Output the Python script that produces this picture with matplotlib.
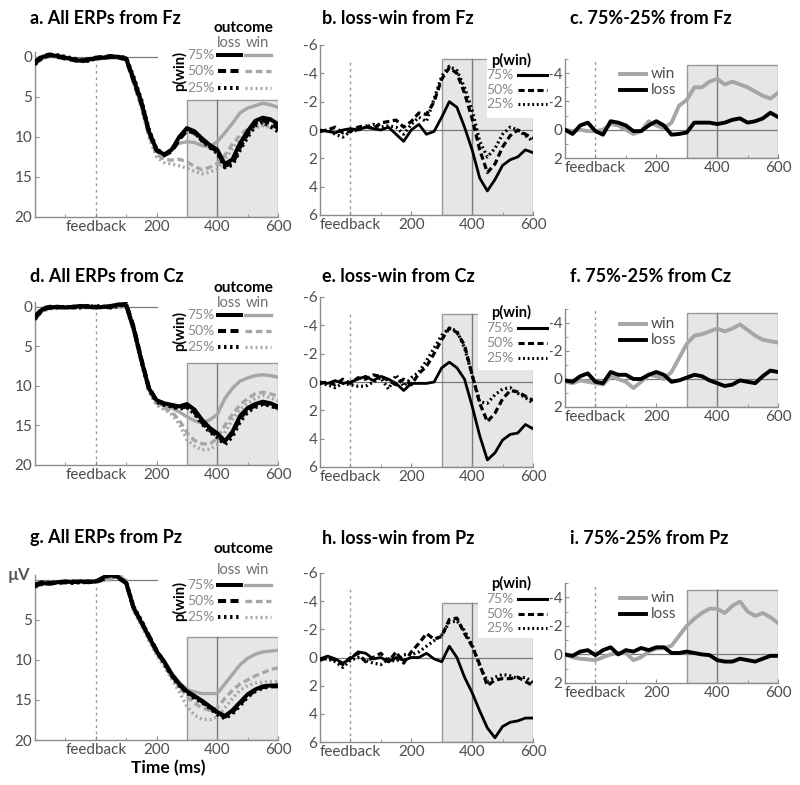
import numpy as np
import matplotlib
matplotlib.use('Agg')
import matplotlib.pyplot as plt
from matplotlib.lines import Line2D
from matplotlib.patches import Rectangle

plt.rcParams['font.family'] = ['Lato', 'DejaVu Sans']

W, H = 800, 785

# time bases (ms)
t_all = np.arange(-200, 601, 25)
t_diff = np.arange(-100, 601, 25)

# ---- all ERPs (uV), panels a / d / g ----
fz_loss75 = [0.8, 0.0, -0.2, -0.1, 0.1, 0.3, 0.5, 0.3, 0.2, 0.1, 0.0, 0.0, 0.2, 2.8, 5.6, 9.3,
             11.6, 12.2, 11.6, 10.0, 8.9, 9.3, 10.2, 11.0, 11.6, 13.4, 12.8, 10.8, 9.3, 8.0, 7.6, 7.8, 8.4]
fz_loss50 = [0.6, -0.1, -0.3, 0.0, 0.2, 0.4, 0.6, 0.4, 0.1, 0.0, -0.1, 0.1, 0.3, 3.0, 5.8, 9.4,
             11.7, 12.3, 11.8, 10.3, 9.2, 9.5, 10.4, 11.2, 11.8, 13.6, 13.3, 11.3, 9.6, 8.3, 7.9, 8.3, 8.9]
fz_loss25 = [0.9, 0.1, -0.2, -0.2, 0.0, 0.2, 0.4, 0.5, 0.2, 0.1, 0.0, 0.0, 0.1, 2.6, 5.4, 9.1,
             11.5, 12.2, 11.7, 10.1, 9.0, 9.4, 10.5, 11.3, 12.0, 13.8, 13.5, 11.6, 10.0, 8.6, 8.1, 8.7, 9.3]
fz_win75 = [0.7, 0.1, -0.1, 0.0, 0.2, 0.3, 0.4, 0.4, 0.3, 0.2, 0.1, 0.1, 0.3, 3.2, 6.0, 9.6,
            11.8, 12.2, 11.5, 10.8, 10.6, 10.7, 11.1, 11.2, 10.6, 9.5, 8.3, 7.0, 6.4, 6.1, 5.8, 6.0, 6.3]
fz_win50 = [0.8, 0.0, -0.2, 0.1, 0.3, 0.2, 0.5, 0.3, 0.2, 0.2, 0.2, 0.1, 0.4, 3.3, 6.2, 9.8,
            12.2, 12.8, 12.9, 12.8, 13.1, 13.7, 14.1, 13.8, 13.3, 12.3, 10.9, 9.8, 9.0, 8.7, 8.5, 8.6, 8.7]
fz_win25 = [1.0, 0.2, 0.0, 0.0, 0.2, 0.4, 0.6, 0.5, 0.3, 0.2, 0.1, 0.2, 0.4, 3.4, 6.4, 10.0,
            12.5, 13.2, 13.4, 13.6, 13.9, 14.3, 14.6, 14.4, 14.0, 12.8, 11.5, 10.4, 9.4, 8.9, 8.6, 8.8, 9.1]

cz_loss75 = [1.4, 0.3, 0.1, 0.0, 0.1, 0.0, -0.1, 0.0, 0.1, 0.0, -0.1, -0.3, -0.2, 2.8, 6.7, 10.3,
             11.8, 12.2, 12.4, 12.6, 12.3, 13.0, 14.3, 15.3, 16.0, 17.0, 15.8, 13.8, 12.8, 12.3, 12.0, 12.2, 12.6]
cz_loss50 = [1.2, 0.2, 0.0, 0.1, 0.0, 0.1, 0.0, -0.1, 0.0, 0.1, 0.0, -0.2, -0.4, 2.6, 6.6, 10.2,
             11.9, 12.3, 12.5, 12.8, 12.6, 13.3, 14.6, 15.6, 16.3, 17.1, 16.0, 14.1, 13.0, 12.5, 12.2, 12.4, 12.8]
cz_loss25 = [1.5, 0.4, 0.1, 0.0, 0.1, 0.0, 0.1, 0.0, -0.1, 0.0, 0.1, -0.1, -0.3, 2.7, 6.8, 10.4,
             12.0, 12.4, 12.6, 12.9, 12.7, 13.5, 14.8, 15.8, 16.5, 17.4, 16.4, 14.5, 13.3, 12.7, 12.3, 12.5, 12.9]
cz_win75 = [1.3, 0.3, 0.2, 0.1, 0.0, 0.1, 0.0, 0.1, 0.1, 0.0, 0.1, 0.0, -0.1, 3.0, 6.9, 10.5,
            12.0, 12.5, 12.8, 13.3, 13.9, 14.4, 14.7, 14.3, 13.6, 11.6, 10.3, 9.4, 9.0, 8.7, 8.6, 8.7, 8.9]
cz_win50 = [1.6, 0.4, 0.2, 0.1, 0.1, 0.0, 0.1, 0.1, 0.0, 0.1, 0.0, 0.0, 0.0, 3.1, 7.0, 10.6,
            12.2, 12.8, 13.3, 14.3, 15.9, 16.9, 17.3, 17.4, 16.6, 15.0, 13.6, 12.4, 11.6, 11.0, 10.8, 11.0, 11.3]
cz_win25 = [1.7, 0.5, 0.3, 0.2, 0.1, 0.1, 0.0, 0.1, 0.1, 0.0, 0.1, 0.1, 0.1, 3.2, 7.1, 10.8,
            12.4, 13.0, 13.6, 14.8, 16.8, 17.6, 18.1, 18.0, 17.5, 15.9, 14.2, 13.0, 12.2, 11.6, 11.2, 11.5, 11.9]

pz_loss75 = [0.7, 0.4, 0.5, 0.3, 0.2, 0.3, 0.2, 0.3, 0.2, -0.3, -0.8, -0.3, 0.4, 3.5, 5.3, 7.1,
             8.9, 10.2, 11.8, 13.0, 13.9, 14.5, 15.1, 15.8, 16.5, 17.0, 16.3, 15.3, 14.3, 13.7, 13.3, 13.2, 13.2]
pz_loss50 = [0.6, 0.3, 0.4, 0.4, 0.3, 0.2, 0.3, 0.2, 0.3, -0.1, -0.6, -0.2, 0.4, 3.6, 5.2, 7.0,
             8.8, 10.3, 11.9, 13.1, 14.0, 14.6, 15.2, 15.9, 16.6, 17.1, 16.5, 15.5, 14.5, 13.8, 13.4, 13.3, 13.3]
pz_loss25 = [0.8, 0.5, 0.4, 0.3, 0.3, 0.4, 0.3, 0.3, 0.2, -0.2, -0.7, -0.3, 0.3, 3.4, 5.1, 7.0,
             8.9, 10.4, 12.0, 13.2, 14.1, 14.8, 15.3, 16.0, 16.8, 17.3, 16.7, 15.7, 14.6, 13.9, 13.5, 13.3, 13.2]
pz_win75 = [0.9, 0.5, 0.4, 0.3, 0.2, 0.2, 0.1, 0.2, 0.1, 0.0, -0.2, -0.5, 0.2, 3.7, 5.4, 7.2,
            9.0, 10.1, 11.6, 12.8, 13.7, 14.0, 14.2, 14.2, 14.2, 13.0, 11.8, 10.6, 9.8, 9.3, 9.0, 8.9, 8.8]
pz_win50 = [0.8, 0.4, 0.3, 0.3, 0.2, 0.2, 0.2, 0.1, 0.2, 0.1, -0.1, -0.6, 0.1, 3.8, 5.5, 7.4,
            9.2, 10.5, 12.0, 13.4, 14.6, 15.4, 16.0, 16.3, 16.0, 14.8, 13.8, 13.0, 12.5, 12.0, 11.6, 11.2, 11.0]
pz_win25 = [1.0, 0.5, 0.4, 0.3, 0.2, 0.3, 0.2, 0.2, 0.1, 0.1, 0.0, -0.7, 0.1, 3.9, 5.7, 7.6,
            9.4, 10.8, 12.4, 14.0, 15.8, 16.9, 17.4, 17.5, 17.1, 16.0, 14.8, 13.8, 13.2, 12.9, 12.8, 12.7, 12.7]

# ---- loss-win differences (uV), panels b / e / h ----
fz_lw75 = [0.0, 0.1, 0.2, 0.0, -0.1, 0.0, -0.2, -0.1, 0.0, -0.2, 0.3, 0.8, 0.0, -0.4, 0.3, 0.1,
           -0.9, -2.0, -1.6, -0.2, 1.4, 3.4, 4.3, 3.5, 2.5, 2.1, 1.9, 1.4, 1.6]
fz_lw50 = [0.1, 0.0, -0.2, 0.2, 0.1, -0.2, -0.3, -0.1, -0.5, -0.6, -0.7, -0.2, -0.6, -1.2, -1.1, -2.0,
           -3.6, -4.4, -4.0, -2.6, -0.8, 1.4, 3.0, 2.4, 1.2, 0.4, 0.0, 0.3, 0.6]
fz_lw25 = [0.1, 0.0, 0.3, 0.5, 0.1, 0.0, -0.2, -0.4, -0.2, -0.3, -0.2, 0.3, -0.4, -0.9, -0.6, -2.2,
           -3.8, -4.5, -4.2, -3.0, -1.4, 0.8, 1.9, 1.3, 0.3, -0.2, 0.0, 0.4, 0.8]

cz_lw75 = [0.0, 0.1, -0.1, 0.1, 0.0, -0.2, -0.4, -0.1, -0.4, -0.2, 0.1, 0.6, 0.1, 0.1, 0.1, 0.0,
           -1.0, -1.4, -1.0, -0.2, 1.7, 3.8, 5.5, 5.0, 4.1, 3.7, 3.6, 3.0, 3.3]
cz_lw50 = [0.1, 0.0, 0.2, -0.2, 0.1, -0.3, -0.2, -0.5, -0.4, -0.1, 0.2, -0.2, 0.2, -0.6, -1.1, -2.0,
           -3.0, -3.8, -3.5, -2.6, -0.5, 1.5, 2.8, 2.2, 1.2, 0.6, 0.7, 1.0, 1.3]
cz_lw25 = [0.1, 0.2, 0.4, 0.1, 0.2, 0.3, 0.3, 0.0, -0.3, 0.5, -0.5, 0.3, -0.3, -0.7, -1.5, -2.4,
           -3.3, -3.8, -3.6, -2.4, -0.5, 1.4, 1.5, 0.9, 0.5, 0.4, 0.8, 1.1, 1.5]

pz_lw75 = [0.1, -0.1, 0.1, 0.4, 0.1, -0.4, -0.3, 0.1, 0.0, 0.3, 0.0, 0.2, 0.0, 0.0, -0.3, 0.1,
           0.3, -0.8, 0.0, 1.4, 2.5, 3.8, 5.0, 5.7, 4.9, 4.6, 4.5, 4.3, 4.3]
pz_lw50 = [0.2, 0.0, 0.2, 0.5, 0.0, -0.3, 0.3, 0.0, -0.3, 0.3, -0.4, 0.4, -0.4, -1.0, -1.7, -1.3,
           -1.5, -2.7, -2.8, -1.7, -0.8, 0.5, 2.0, 1.6, 1.5, 1.5, 1.4, 1.7, 2.0]
pz_lw25 = [0.1, 0.1, 0.3, 0.7, 0.2, 0.0, 0.2, 0.4, 0.5, 0.1, 0.3, -0.2, -0.2, -0.4, -0.8, -1.2,
           -1.6, -2.5, -2.6, -1.9, -0.9, 0.6, 1.7, 1.4, 1.2, 1.3, 1.5, 1.4, 1.8]

# ---- 75%-25% differences (uV), panels c / f / i ----
fz_dwin = [0.0, 0.1, 0.0, 0.1, 0.1, 0.0, -0.4, -0.3, 0.0, 0.3, 0.1, -0.6, -0.3, -0.1, -0.5, -1.7,
           -2.1, -3.0, -3.0, -3.4, -3.6, -3.2, -3.4, -3.2, -3.0, -2.7, -2.4, -2.2, -2.6]
fz_dloss = [0.0, 0.3, -0.3, -0.5, 0.1, 0.35, -0.6, -0.5, -0.3, 0.1, 0.1, -0.3, -0.6, -0.3, 0.35, 0.3,
            0.2, -0.5, -0.5, -0.5, -0.4, -0.5, -0.7, -0.8, -0.5, -0.6, -0.8, -1.2, -0.9]
cz_dwin = [0.2, 0.3, 0.1, 0.2, 0.3, 0.4, -0.2, 0.0, 0.2, 0.65, 0.2, -0.3, -0.2, 0.0, -0.5, -1.5,
           -2.5, -3.1, -3.2, -3.4, -3.6, -3.4, -3.6, -3.9, -3.5, -3.1, -2.8, -2.7, -2.6]
cz_dloss = [0.1, 0.2, -0.2, -0.4, 0.2, 0.3, -0.5, -0.3, -0.3, 0.0, 0.0, -0.3, -0.5, -0.3, 0.2, 0.1,
            -0.1, -0.3, -0.2, 0.1, 0.3, 0.5, 0.4, 0.1, 0.2, 0.3, -0.2, -0.6, -0.5]
pz_dwin = [0.0, 0.2, 0.3, 0.35, 0.4, 0.2, 0.0, -0.1, -0.1, 0.4, 0.2, -0.2, -0.4, -0.45, -0.6, -1.3,
           -2.0, -2.5, -2.9, -3.2, -3.2, -2.9, -3.4, -3.7, -3.0, -2.7, -2.9, -2.6, -2.2]
pz_dloss = [0.0, 0.1, -0.2, -0.3, 0.05, -0.3, -0.5, 0.0, -0.3, -0.2, -0.45, -0.3, -0.5, -0.5, -0.1, -0.1,
            -0.2, -0.1, 0.0, 0.05, 0.4, 0.5, 0.5, 0.3, 0.4, 0.5, 0.3, 0.1, 0.1]

prob_labels = ['75%', '50%', '25%']
titles = ['a. All ERPs from Fz', 'b. loss-win from Fz', 'c. 75%-25% from Fz',
          'd. All ERPs from Cz', 'e. loss-win from Cz', 'f. 75%-25% from Cz',
          'g. All ERPs from Pz', 'h. loss-win from Pz', 'i. 75%-25% from Pz']

GRAY = '#a6a6a6'
SPINE = '#8c8c8c'
TICKC = '#4d4d4d'
SHADE = '#e6e6e6'
styles = ['-', (0, (2.0, 1.1)), (0, (0.6, 0.9))]

fig = plt.figure(figsize=(W / 100, H / 100), dpi=100)


def fx(x):
    return x / W


def fy(y):
    return 1 - y / H


def add_axes(l, r, t, b):
    return fig.add_axes([fx(l), fy(b), (r - l) / W, (b - t) / H])


def seg(x0, x1, y, **kw):
    fig.add_artist(Line2D([fx(x0), fx(x1)], [fy(y), fy(y)], transform=fig.transFigure, **kw))


def txt(x, y, s, **kw):
    fig.text(fx(x), fy(y), s, va='center', **kw)


def style(ax, xlim, ylim, yticks, ylabels):
    ax.set_xlim(*xlim)
    ax.set_ylim(*ylim)
    for s in ['top', 'right']:
        ax.spines[s].set_visible(False)
    for s in ['left', 'bottom']:
        ax.spines[s].set_color(SPINE)
        ax.spines[s].set_linewidth(1.0)
    ax.set_xticks([0, 200, 400, 600])
    ax.set_xticklabels(['feedback', '200', '400', '600'])
    ax.set_xticks(np.arange(-100, 601, 100), minor=True)
    ax.set_yticks(yticks)
    ax.set_yticklabels(ylabels)
    ax.tick_params(which='both', direction='in', color=SPINE, labelcolor=TICKC,
                   labelsize=11, pad=2)
    ax.tick_params(which='major', length=3)
    ax.tick_params(which='minor', length=2)


# ---------- column 1: all ERPs ----------
erp_sets = [
    (fz_loss75, fz_loss50, fz_loss25, fz_win75, fz_win50, fz_win25),
    (cz_loss75, cz_loss50, cz_loss25, cz_win75, cz_win50, cz_win25),
    (pz_loss75, pz_loss50, pz_loss25, pz_win75, pz_win50, pz_win25),
]
erp_box = [(52, 217), (302, 465), (575, 740)]
erp_shade_top = [5.4, 7.1, 7.2]
erp_leg = [(28, 43, [55, 71, 88]), (288, 303, [315, 331, 347]), (549, 570, [585, 601, 617])]
erp_ylabels = [['0', '5', '10', '15', '20'], ['0', '5', '10', '15', '20'],
               ['', '5', '10', '15', '20']]

for k, series in enumerate(erp_sets):
    top, bot = erp_box[k]
    ax = add_axes(35, 278, top, bot)
    style(ax, (-200, 600), (20, -0.6), [0, 5, 10, 15, 20], erp_ylabels[k])
    st = erp_shade_top[k]
    ax.add_patch(Rectangle((300, st), 300, 20 - st, facecolor=SHADE, edgecolor='#9a9a9a',
                           lw=1, zorder=0))
    ax.plot([400, 400], [st, 20], color='#7a7a7a', lw=1, zorder=1)
    ax.plot([-200, 200], [0, 0], color='#7a7a7a', lw=0.9, zorder=1)
    ax.plot([0, 0], [20, 0.5], color='#9a9a9a', lw=1, ls=(0, (2, 2.5)), zorder=1)
    for j in range(3):
        ax.plot(t_all, series[3 + j], color=GRAY, lw=2.4, ls=styles[j], zorder=2)
    for j in range(3):
        ax.plot(t_all, series[j], color='black', lw=2.9, ls=styles[j], zorder=3)

    oy, lwy, rows = erp_leg[k]
    txt(243, oy, 'outcome', ha='center', fontsize=11, fontweight='bold', color='black')
    txt(229, lwy, 'loss', ha='center', fontsize=10.5, color='#707070')
    txt(257, lwy, 'win', ha='center', fontsize=10.5, color='#707070')
    fig.text(fx(180), fy(rows[1]), 'p(win)', rotation=90, ha='center', va='center',
             fontsize=10.5, fontweight='bold', color='black')
    for j in range(3):
        txt(201, rows[j], prob_labels[j], ha='center', fontsize=10, color='#8a8a8a')
        seg(218, 241, rows[j], color='black', lw=2.9, ls=styles[j])
        seg(245, 271, rows[j], color=GRAY, lw=2.4, ls=styles[j])

# ---------- column 2: loss-win ----------
lw_sets = [(fz_lw75, fz_lw50, fz_lw25), (cz_lw75, cz_lw50, cz_lw25), (pz_lw75, pz_lw50, pz_lw25)]
lw_box = [(45, 215), (297, 467), (573, 742)]
lw_shade_top = [-5.0, -4.8, -3.9]
lw_notch = [(487, 118), (478, 370), (478, 638)]
lw_leg = [(60, [75, 90, 104]), (312, [328, 343, 358]), (583, [599, 614, 628])]

for k, series in enumerate(lw_sets):
    top, bot = lw_box[k]
    ax = add_axes(320, 533, top, bot)
    style(ax, (-100, 600), (6, -6), [-6, -4, -2, 0, 2, 4, 6],
          ['-6', '-4', '-2', '0', '2', '4', '6'])
    st = lw_shade_top[k]
    ax.add_patch(Rectangle((300, st), 300, 6 - st, facecolor=SHADE, edgecolor='#9a9a9a',
                           lw=1, zorder=0))
    ax.plot([400, 400], [st, 6], color='#7a7a7a', lw=1, zorder=1)
    ax.axhline(0, color='#7a7a7a', lw=0.9, zorder=1)
    ax.plot([0, 0], [6, -5], color='#9a9a9a', lw=1, ls=(0, (2, 2.5)), zorder=1)
    for j in range(3):
        ax.plot(t_diff, series[j], color='black', lw=2.0 if j == 0 else 2.3, ls=styles[j], zorder=3)

    nx, ny = lw_notch[k]
    fig.add_artist(Rectangle((fx(nx), fy(ny)), fx(550) - fx(nx), fy(top + 12) - fy(ny),
                             transform=fig.transFigure, facecolor='white', edgecolor='none',
                             zorder=1.5))
    hy, rows = lw_leg[k]
    txt(511, hy, 'p(win)', ha='center', fontsize=10.5, fontweight='bold', color='black', zorder=3)
    for j in range(3):
        txt(500, rows[j], prob_labels[j], ha='center', fontsize=10, color='#8a8a8a', zorder=3)
        seg(518, 547, rows[j], color='black', lw=2.2, ls=styles[j], zorder=3)

# ---------- column 3: 75%-25% ----------
pd_sets = [(fz_dwin, fz_dloss), (cz_dwin, cz_dloss), (pz_dwin, pz_dloss)]
pd_box = [(59, 158), (309, 407), (583, 683)]
pd_shade_top = [-4.6, -4.7, -4.5]

for k, (win, loss) in enumerate(pd_sets):
    top, bot = pd_box[k]
    ax = add_axes(565, 778, top, bot)
    style(ax, (-100, 600), (2, -5), [-4, -2, 0, 2], ['-4', '-2', '0', '2'])
    ax.set_yticks(np.arange(-5, 2.1, 1), minor=True)
    st = pd_shade_top[k]
    ax.add_patch(Rectangle((300, st), 300, 2 - st, facecolor=SHADE, edgecolor='#9a9a9a',
                           lw=1, zorder=0))
    ax.plot([400, 400], [st, 2], color='#7a7a7a', lw=1, zorder=1)
    ax.axhline(0, color='#7a7a7a', lw=0.9, zorder=1)
    ax.plot([0, 0], [2, -5], color='#9a9a9a', lw=1, ls=(0, (2, 2.5)), zorder=1)
    ax.plot(t_diff, win, color=GRAY, lw=2.8, zorder=2)
    ax.plot(t_diff, loss, color='black', lw=2.8, zorder=3)

    # legend
    ly_win = top + 15
    ly_loss = top + 31
    seg(620, 646, ly_win, color=GRAY, lw=2.8)
    seg(620, 646, ly_loss, color='black', lw=2.8)
    txt(651, ly_win, 'win', ha='left', fontsize=11, color='#4d4d4d')
    txt(651, ly_loss, 'loss', ha='left', fontsize=11, color='#4d4d4d')

# ---------- titles and labels ----------
title_x = [30, 322, 570]
title_y = [18, 277, 538]
for r in range(3):
    for c in range(3):
        txt(title_x[c], title_y[r], titles[r * 3 + c], ha='left', fontsize=13,
            fontweight='bold', color='black')

txt(19, 575, 'µV', ha='center', fontsize=12, fontweight='bold', color='#555555')
txt(168, 768, 'Time (ms)', ha='center', fontsize=12.5, fontweight='bold', color='black')

fig.savefig('out.png', dpi=100)
